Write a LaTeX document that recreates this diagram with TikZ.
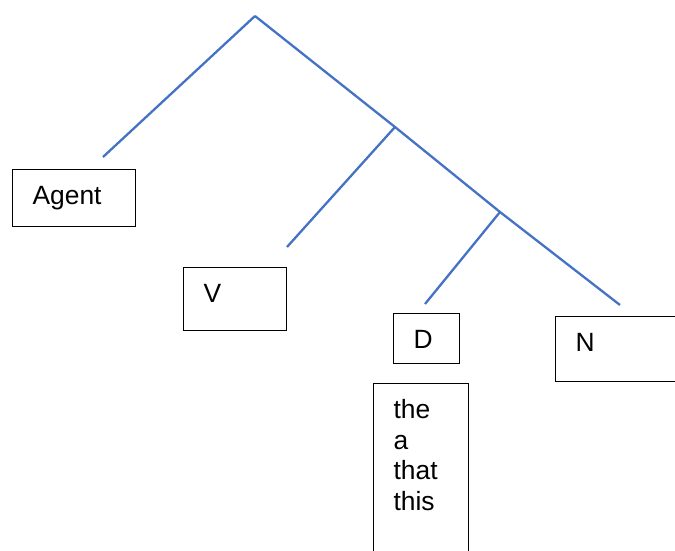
\documentclass[tikz,border=0pt]{standalone}
\usepackage{fontspec}
\setmainfont{Liberation Sans}
\usepackage{tikz}
\definecolor{branchblue}{RGB}{68,114,196}
\tikzstyle{bx}=[draw=black,line width=1.2pt,anchor=north west,align=left,inner xsep=20pt,inner ysep=0pt,text height=35pt,font=\fontsize{26.4}{30.6}\selectfont]
\tikzstyle{br}=[draw=branchblue,line width=2.3pt]

\begin{document}
\begin{tikzpicture}[x=1pt,y=-1pt]
\useasboundingbox (0,0) rectangle (675,550);
\coordinate (top) at (255,16); \coordinate (vp) at (395,127); \coordinate (np) at (500,212);
\coordinate (aend) at (103,157); \coordinate (vend) at (287,247); \coordinate (dend) at (425,304); \coordinate (nend) at (620,305);
\node[bx,text width=83pt,text depth=22pt] (agent) at (12,169) {Agent};
\node[bx,text width=63pt,text depth=28pt] (verb) at (183,267) {V};
\node[bx,text width=26pt,text depth=15pt] (det) at (393,313) {D};
\node[bx,text width=85pt,text depth=30pt] (noun) at (555,316) {N};
\node[bx,text width=55pt,text depth=160pt] (words) at (373,383) {the\\a\\that\\this};
\draw[br] (top) -- (aend);
\draw[br] (top) -- (vp) -- (np) -- (nend);
\draw[br] (vp) -- (vend);
\draw[br] (np) -- (dend);
\end{tikzpicture}
\end{document}
